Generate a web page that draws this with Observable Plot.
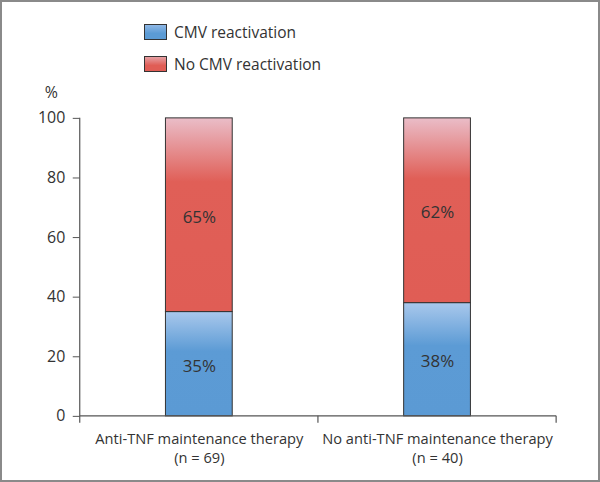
<!DOCTYPE html>
<html><head><meta charset="utf-8">
<script src="https://cdn.jsdelivr.net/npm/d3@7"></script>
<script src="https://cdn.jsdelivr.net/npm/@observablehq/plot@0.6"></script>
<style>
html,body{margin:0;padding:0;background:#fff;}
#frame{position:relative;width:600px;height:482px;box-sizing:border-box;border:2px solid #8a8a8a;font-family:"Open Sans",sans-serif;color:#333;overflow:hidden;background:#fff;}
#legend{position:absolute;left:142px;top:22px;}
.item{display:flex;align-items:center;height:16px;margin-bottom:16px;font-size:15.5px;line-height:16px;}
.sw{width:23px;height:16px;box-sizing:border-box;border:1px solid #333;margin-right:7px;}
#chart{position:absolute;left:-2px;top:78px;}
</style>
</head><body>
<div id="frame">
  <div id="legend"></div>
  <div id="chart"></div>
</div>
<script>
// ---- data ----
const groups = ["Anti-TNF maintenance therapy", "No anti-TNF maintenance therapy"];
const nValues = [69, 40];
const statuses = ["CMV reactivation", "No CMV reactivation"];
const cmvPct = [35, 38];
const noCmvPct = [65, 62];
const yTicks = [0, 20, 40, 60, 80, 100];
const yLabel = "%";

// ---- table ----
const data = groups.flatMap((g, i) => [
  {group: g, status: statuses[0], value: cmvPct[i]},
  {group: g, status: statuses[1], value: noCmvPct[i]}
]);
const labelOf = new Map(groups.map((g, i) => [g, `${g}\n(n = ${nValues[i]})`]));

// legend
const swatchBg = [
  "linear-gradient(#8fb8e6, #5b9bd5 60%)",
  "linear-gradient(#e6a0a4, #e05d55 60%)"
];
const legend = document.getElementById("legend");
statuses.forEach((s, i) => {
  const it = document.createElement("div");
  it.className = "item";
  const sw = document.createElement("div");
  sw.className = "sw";
  sw.style.background = swatchBg[i];
  const t = document.createElement("span");
  t.textContent = s;
  it.append(sw, t);
  legend.append(it);
});

// axis lines and boundary ticks derived from scales
const axisLines = (index, scales) => {
  const x = scales.x, y = scales.y;
  const bw = x.bandwidth();
  const y0 = y(0), yTop = y(d3.max(yTicks));
  const g = d3.create("svg:g").attr("stroke", "#555").attr("stroke-width", 1.2);
  const left = x(groups[0]);
  g.append("line").attr("x1", left).attr("x2", left).attr("y1", yTop).attr("y2", y0 + 7);
  g.append("line").attr("x1", left).attr("x2", x(groups[groups.length - 1]) + bw).attr("y1", y0).attr("y2", y0);
  groups.forEach(gr => {
    const xv = x(gr) + bw;
    g.append("line").attr("x1", xv).attr("x2", xv).attr("y1", y0).attr("y2", y0 + 7);
  });
  return g.node();
};

const plot = Plot.plot({
  width: 600,
  height: 400,
  marginLeft: 80,
  marginRight: 42,
  marginTop: 38,
  marginBottom: 63,
  style: {fontFamily: '"Open Sans", sans-serif', color: "#333", background: "transparent", overflow: "visible"},
  x: {domain: groups, padding: 0, label: null},
  y: {domain: [0, 100], label: null},
  color: {domain: statuses, range: ["url(#gBlue)", "url(#gRed)"]},
  marks: [
    Plot.barY(data, {x: "group", y: "value", fill: "status", stroke: "#333", strokeWidth: 1, insetLeft: 86, insetRight: 86}),
    Plot.text(data, Plot.stackY({x: "group", y: "value", z: "status", text: d => `${d.value}%`, fontSize: 17, fill: "#333", dy: 2})),
    Plot.axisY({ticks: yTicks, tickSize: 7, tickPadding: 8, fontSize: 16, stroke: "#555", label: null}),
    Plot.axisX({tickSize: 0, tickPadding: 14, fontSize: 14.7, lineHeight: 1.3, tickFormat: g => labelOf.get(g), label: null}),
    axisLines,
    Plot.text([yLabel], {frameAnchor: "top-left", dx: -29, dy: -26, fontSize: 16, textAnchor: "middle", lineAnchor: "middle", fill: "#333"})
  ]
});

const defs = `<defs>
<linearGradient id="gBlue" x1="0" y1="0" x2="0" y2="1">
  <stop offset="0" stop-color="#a9c8ec"/><stop offset="0.38" stop-color="#5c9bd5"/><stop offset="1" stop-color="#5b9ad4"/>
</linearGradient>
<linearGradient id="gRed" x1="0" y1="0" x2="0" y2="1">
  <stop offset="0" stop-color="#eabdc8"/><stop offset="0.33" stop-color="#e05f57"/><stop offset="1" stop-color="#e05d55"/>
</linearGradient>
</defs>`;
plot.insertAdjacentHTML("afterbegin", defs);
document.getElementById("chart").append(plot);
</script>
</body></html>
